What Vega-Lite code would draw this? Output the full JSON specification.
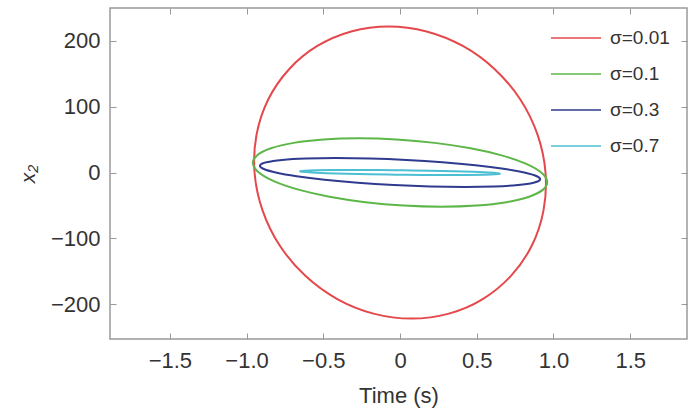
{
  "$schema": "https://vega.github.io/schema/vega-lite/v6.json",
  "width": 577,
  "height": 331,
  "autosize": "none",
  "padding": {"left": 110, "top": 8, "right": 5, "bottom": 71},
  "background": "white",
  "config": {
    "view": {"stroke": "#999999", "strokeWidth": 1.5},
    "font": "Liberation Sans",
    "axis": {"labelFont": "Liberation Sans", "titleFont": "Liberation Sans", "labelFontSize": 22, "titleFontSize": 22, "labelColor": "#333333", "titleColor": "#333333", "domainColor": "#999999", "tickColor": "#999999", "grid": false, "titleFontWeight": "normal"}
  },
  "data": {"values": [
    {"s":"σ=0.01","i":0,"t":0.948,"x2":0},
    {"s":"σ=0.01","i":1,"t":0.896,"x2":57.5},
    {"s":"σ=0.01","i":2,"t":0.784,"x2":111},
    {"s":"σ=0.01","i":3,"t":0.617,"x2":157},
    {"s":"σ=0.01","i":4,"t":0.409,"x2":192.3},
    {"s":"σ=0.01","i":5,"t":0.173,"x2":214.4},
    {"s":"σ=0.01","i":6,"t":-0.075,"x2":222},
    {"s":"σ=0.01","i":7,"t":-0.318,"x2":214.4},
    {"s":"σ=0.01","i":8,"t":-0.539,"x2":192.3},
    {"s":"σ=0.01","i":9,"t":-0.723,"x2":157},
    {"s":"σ=0.01","i":10,"t":-0.859,"x2":111},
    {"s":"σ=0.01","i":11,"t":-0.935,"x2":57.5},
    {"s":"σ=0.01","i":12,"t":-0.948,"x2":0},
    {"s":"σ=0.01","i":13,"t":-0.896,"x2":-57.5},
    {"s":"σ=0.01","i":14,"t":-0.784,"x2":-111},
    {"s":"σ=0.01","i":15,"t":-0.617,"x2":-157},
    {"s":"σ=0.01","i":16,"t":-0.409,"x2":-192.3},
    {"s":"σ=0.01","i":17,"t":-0.173,"x2":-214.4},
    {"s":"σ=0.01","i":18,"t":0.075,"x2":-222},
    {"s":"σ=0.01","i":19,"t":0.318,"x2":-214.4},
    {"s":"σ=0.01","i":20,"t":0.539,"x2":-192.3},
    {"s":"σ=0.01","i":21,"t":0.723,"x2":-157},
    {"s":"σ=0.01","i":22,"t":0.859,"x2":-111},
    {"s":"σ=0.01","i":23,"t":0.935,"x2":-57.5},
    {"s":"σ=0.1","i":0,"t":0.92,"x2":0},
    {"s":"σ=0.1","i":1,"t":0.819,"x2":13.46},
    {"s":"σ=0.1","i":2,"t":0.662,"x2":26},
    {"s":"σ=0.1","i":3,"t":0.46,"x2":36.77},
    {"s":"σ=0.1","i":4,"t":0.226,"x2":45.03},
    {"s":"σ=0.1","i":5,"t":-0.023,"x2":50.23},
    {"s":"σ=0.1","i":6,"t":-0.27,"x2":52},
    {"s":"σ=0.1","i":7,"t":-0.499,"x2":50.23},
    {"s":"σ=0.1","i":8,"t":-0.694,"x2":45.03},
    {"s":"σ=0.1","i":9,"t":-0.841,"x2":36.77},
    {"s":"σ=0.1","i":10,"t":-0.932,"x2":26},
    {"s":"σ=0.1","i":11,"t":-0.959,"x2":13.46},
    {"s":"σ=0.1","i":12,"t":-0.92,"x2":0},
    {"s":"σ=0.1","i":13,"t":-0.819,"x2":-13.46},
    {"s":"σ=0.1","i":14,"t":-0.662,"x2":-26},
    {"s":"σ=0.1","i":15,"t":-0.46,"x2":-36.77},
    {"s":"σ=0.1","i":16,"t":-0.226,"x2":-45.03},
    {"s":"σ=0.1","i":17,"t":0.023,"x2":-50.23},
    {"s":"σ=0.1","i":18,"t":0.27,"x2":-52},
    {"s":"σ=0.1","i":19,"t":0.499,"x2":-50.23},
    {"s":"σ=0.1","i":20,"t":0.694,"x2":-45.03},
    {"s":"σ=0.1","i":21,"t":0.841,"x2":-36.77},
    {"s":"σ=0.1","i":22,"t":0.932,"x2":-26},
    {"s":"σ=0.1","i":23,"t":0.959,"x2":-13.46},
    {"s":"σ=0.3","i":0,"t":0.81,"x2":0},
    {"s":"σ=0.3","i":1,"t":0.674,"x2":5.69},
    {"s":"σ=0.3","i":2,"t":0.492,"x2":11},
    {"s":"σ=0.3","i":3,"t":0.276,"x2":15.56},
    {"s":"σ=0.3","i":4,"t":0.041,"x2":19.05},
    {"s":"σ=0.3","i":5,"t":-0.196,"x2":21.25},
    {"s":"σ=0.3","i":6,"t":-0.42,"x2":22},
    {"s":"σ=0.3","i":7,"t":-0.615,"x2":21.25},
    {"s":"σ=0.3","i":8,"t":-0.769,"x2":19.05},
    {"s":"σ=0.3","i":9,"t":-0.87,"x2":15.56},
    {"s":"σ=0.3","i":10,"t":-0.912,"x2":11},
    {"s":"σ=0.3","i":11,"t":-0.891,"x2":5.69},
    {"s":"σ=0.3","i":12,"t":-0.81,"x2":0},
    {"s":"σ=0.3","i":13,"t":-0.674,"x2":-5.69},
    {"s":"σ=0.3","i":14,"t":-0.492,"x2":-11},
    {"s":"σ=0.3","i":15,"t":-0.276,"x2":-15.56},
    {"s":"σ=0.3","i":16,"t":-0.041,"x2":-19.05},
    {"s":"σ=0.3","i":17,"t":0.196,"x2":-21.25},
    {"s":"σ=0.3","i":18,"t":0.42,"x2":-22},
    {"s":"σ=0.3","i":19,"t":0.615,"x2":-21.25},
    {"s":"σ=0.3","i":20,"t":0.769,"x2":-19.05},
    {"s":"σ=0.3","i":21,"t":0.87,"x2":-15.56},
    {"s":"σ=0.3","i":22,"t":0.912,"x2":-11},
    {"s":"σ=0.3","i":23,"t":0.891,"x2":-5.69},
    {"s":"σ=0.7","i":0,"t":0.577,"x2":0},
    {"s":"σ=0.7","i":1,"t":0.48,"x2":0.98},
    {"s":"σ=0.7","i":2,"t":0.35,"x2":1.9},
    {"s":"σ=0.7","i":3,"t":0.196,"x2":2.69},
    {"s":"σ=0.7","i":4,"t":0.029,"x2":3.29},
    {"s":"σ=0.7","i":5,"t":-0.14,"x2":3.67},
    {"s":"σ=0.7","i":6,"t":-0.3,"x2":3.8},
    {"s":"σ=0.7","i":7,"t":-0.439,"x2":3.67},
    {"s":"σ=0.7","i":8,"t":-0.548,"x2":3.29},
    {"s":"σ=0.7","i":9,"t":-0.62,"x2":2.69},
    {"s":"σ=0.7","i":10,"t":-0.65,"x2":1.9},
    {"s":"σ=0.7","i":11,"t":-0.635,"x2":0.98},
    {"s":"σ=0.7","i":12,"t":-0.577,"x2":0},
    {"s":"σ=0.7","i":13,"t":-0.48,"x2":-0.98},
    {"s":"σ=0.7","i":14,"t":-0.35,"x2":-1.9},
    {"s":"σ=0.7","i":15,"t":-0.196,"x2":-2.69},
    {"s":"σ=0.7","i":16,"t":-0.029,"x2":-3.29},
    {"s":"σ=0.7","i":17,"t":0.14,"x2":-3.67},
    {"s":"σ=0.7","i":18,"t":0.3,"x2":-3.8},
    {"s":"σ=0.7","i":19,"t":0.439,"x2":-3.67},
    {"s":"σ=0.7","i":20,"t":0.548,"x2":-3.29},
    {"s":"σ=0.7","i":21,"t":0.62,"x2":-2.69},
    {"s":"σ=0.7","i":22,"t":0.65,"x2":-1.9},
    {"s":"σ=0.7","i":23,"t":0.635,"x2":-0.98}
  ]},
  "layer": [
    {
      "mark": {"type": "line", "interpolate": "cardinal-closed", "strokeWidth": 2, "clip": true},
      "encoding": {
        "x": {"field": "t", "type": "quantitative", "scale": {"domain": [-1.89, 1.87], "nice": false, "zero": false},
          "axis": {"orient": "bottom", "title": "Time (s)", "values": [-1.5, -1, -0.5, 0, 0.5, 1, 1.5], "labelExpr": "datum.value == 0 ? '0' : format(datum.value, '.1f')", "tickSize": -6, "labelPadding": 17, "titlePadding": 14, "domain": false}},
        "y": {"field": "x2", "type": "quantitative", "scale": {"domain": [-253, 250], "nice": false, "zero": false},
          "axis": {"orient": "left", "title": "x₂", "titleFontStyle": "italic", "titleFontSize": 21, "values": [-200, -100, 0, 100, 200], "format": "d", "tickSize": -6, "labelPadding": 16, "titlePadding": 12, "domain": false}},
        "order": {"field": "i", "type": "quantitative"},
        "color": {"field": "s", "type": "nominal",
          "scale": {"domain": ["σ=0.01", "σ=0.1", "σ=0.3", "σ=0.7"], "range": ["#e5484b", "#5db648", "#2f3b8f", "#4cbfd2"]},
          "legend": {"title": null, "orient": "none", "legendX": 440, "legendY": 4, "direction": "vertical", "columns": 1, "symbolType": "stroke", "symbolSize": 2500, "symbolStrokeWidth": 1.5, "labelFontSize": 19, "labelFont": "Liberation Sans", "labelColor": "#333333", "rowPadding": 0, "labelOffset": 8}}
      }
    },
    {
      "mark": {"type": "line", "opacity": 0},
      "encoding": {
        "x": {"field": "t", "type": "quantitative", "axis": {"orient": "top", "title": null, "labels": false, "values": [-1.5, -1, -0.5, 0, 0.5, 1, 1.5], "tickSize": -6, "domain": false}},
        "y": {"field": "x2", "type": "quantitative", "axis": {"orient": "right", "title": null, "labels": false, "values": [-200, -100, 0, 100, 200], "tickSize": -6, "domain": false}},
        "detail": {"field": "s", "type": "nominal"}
      }
    }
  ],
  "resolve": {"axis": {"x": "independent", "y": "independent"}}
}
